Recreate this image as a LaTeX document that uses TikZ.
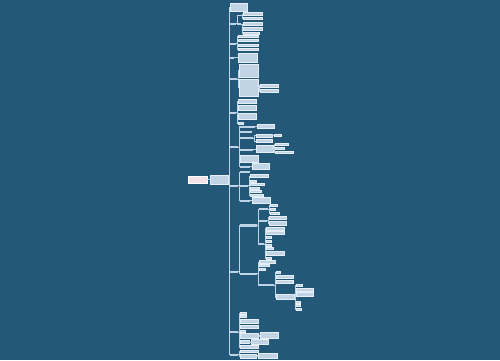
\documentclass[tikz,border=0pt]{standalone}
\usepackage{xcolor}
\definecolor{bgblue}{RGB}{35,88,121}
\definecolor{boxfill}{RGB}{193,212,230}
\definecolor{boxline}{RGB}{230,239,247}
\definecolor{linkcol}{RGB}{190,212,230}
\definecolor{rootfill}{RGB}{244,226,232}
% box from top-left (x1,y1) to bottom-right (x2,y2), in pixels
\newcommand{\bx}[6][leaf]{\node[#1, minimum width={(#5-#3)*1pt}, minimum height={(#6-#4)*1pt}] (#2) at (#3,#4) {};}
% elbow link from parent to child
\newcommand{\lk}[3][1.5]{\draw[link] (#2.east) -- ++(#1,0) |- (#3.west);}

\begin{document}
\begin{tikzpicture}[x=1pt, y=-1pt,
    leaf/.style={draw=boxline, line width=0.2pt, fill=boxfill, inner sep=0pt, outer sep=0pt, anchor=north west},
    lab/.style={leaf, fill=linkcol, draw=none},
    rootbox/.style={leaf, fill=rootfill, draw=white},
    link/.style={draw=linkcol, line width=0.45pt},
]
    \fill[bgblue] (0,0) rectangle (500,360);
    \useasboundingbox (0,0) rectangle (500,360);

    % Root and hub
    \bx[rootbox]{root}{188}{176}{207}{183}
    \bx{hub}{210}{175}{228}{184}
    \draw[link] (root) -- (hub);

    % Level one
    \bx{l0}{230}{3}{247}{11}
    \bx[lab]{l1}{230}{22.5}{236}{24.5}
    \bx[lab]{l2}{230}{42.5}{236}{44.5}
    \bx[lab]{l3}{230}{56.5}{234}{58.5}
    \bx[lab]{l4}{230}{78}{237}{80}
    \bx[lab]{l5}{230}{111.5}{236}{113.5}
    \bx[lab]{l6}{230}{146}{238}{148}
    \bx[lab]{l7}{230}{184.5}{238}{186.5}
    \bx[lab]{l8}{230}{270.5}{238}{272.5}
    \bx[lab]{l9}{230}{331}{238}{333}
    \bx[lab]{l10}{230}{353.5}{238}{355.5}
    \foreach \n in {l0,l1,l2,l3,l4,l5,l6,l7,l8,l9,l10}
        \draw[link] (hub.east) -- ++(1,0) |- (\n.west);

    % Branch 1
    \bx[lab]{l1s1}{238}{14.5}{241}{16}
    \bx[lab]{l1s2}{238}{23}{241}{25}
    \bx{l1a}{243}{12.5}{262}{15}
    \bx{l1b}{243}{17}{262}{19.5}
    \bx{l1c}{243}{22.5}{262}{25.5}
    \bx{l1d}{243}{27.5}{262}{30.5}
    \bx{l1e}{243}{32}{259}{34}
    \lk[1]{l1}{l1s1} \lk[1]{l1}{l1s2}
    \lk[1]{l1s1}{l1a} \lk[1]{l1s1}{l1b}
    \lk[1]{l1s2}{l1c} \lk[1]{l1s2}{l1d} \lk[1]{l1s2}{l1e}

    % Branch 2
    \bx{l2a}{238}{35}{258}{37.5}
    \bx{l2b}{238}{39}{258}{41.5}
    \bx{l2c}{238}{44}{258}{46.5}
    \bx{l2d}{238}{48}{258}{50.5}
    \foreach \c in {l2a,l2b,l2c,l2d} {\lk[1]{l2}{\c}}

    % Branch 3
    \bx{l3a}{238}{53}{257}{62}
    \lk[2]{l3}{l3a}

    % Branch 4
    \bx{l4a}{239}{64}{258}{77}
    \bx{l4b}{239}{79}{258}{96}
    \bx{l4b1}{260}{84}{278}{87}
    \bx{l4b2}{260}{89.5}{278}{92.5}
    \lk[1]{l4}{l4a} \lk[1]{l4}{l4b}
    \lk[1]{l4b}{l4b1} \lk[1]{l4b}{l4b2}

    % Branch 5
    \bx{l5a}{238}{99}{256}{103}
    \bx{l5b}{238}{105.5}{256}{110.5}
    \bx{l5c}{238}{113}{256}{119.5}
    \bx{l5d}{238}{122}{243}{124}
    \foreach \c in {l5a,l5b,l5c,l5d} {\lk[1]{l5}{\c}}

    % Branch 6
    \bx[lab]{l6a}{240}{125.5}{255}{127.5}
    \bx{l6a1}{257}{124.5}{274}{128}
    \bx[lab]{l6b}{240}{131}{252}{133}
    \bx[lab]{l6c}{240}{137}{253}{139}
    \bx{l6c1}{256}{134}{272}{137}
    \bx{l6c2}{256}{139.5}{272}{142.5}
    \bx{l6c1a}{274}{134.5}{281}{136.5}
    \bx[lab]{l6d}{240}{148.5}{253}{150.5}
    \bx{l6d1}{256}{145.5}{273}{152.5}
    \bx{l6d1a}{275}{143.5}{288}{145.5}
    \bx{l6d1b}{275}{147.5}{284}{149.5}
    \bx{l6d1c}{275}{151.5}{293}{153.5}
    \bx{l6e}{240}{155}{258}{162.5}
    \bx[lab]{l6f}{240}{165.5}{250}{167.5}
    \bx{l6f1}{252}{163.5}{269}{169.5}
    \foreach \c in {l6a,l6b,l6c,l6d,l6e,l6f} {\lk[1]{l6}{\c}}
    \lk[1]{l6a}{l6a1}
    \lk[1]{l6c}{l6c1} \lk[1]{l6c}{l6c2}
    \lk[1]{l6c1}{l6c1a}
    \lk[1]{l6d}{l6d1}
    \lk[1]{l6d1}{l6d1a} \lk[1]{l6d1}{l6d1b} \lk[1]{l6d1}{l6d1c}
    \lk[1]{l6f}{l6f1}

    % Branch 7
    \bx[lab]{l7a}{240}{171}{250}{173}
    \bx[lab]{l7b}{240}{184.5}{248}{186.5}
    \bx{l7b1}{250}{174.5}{268}{177.5}
    \bx{l7b2}{250}{180}{256}{182}
    \bx{l7b3}{250}{183}{264}{185}
    \bx{l7b4}{250}{187}{259}{189}
    \bx{l7b5}{250}{190.5}{261}{192.5}
    \bx{l7b6}{250}{194.5}{263}{196.5}
    \bx[lab]{l7c}{240}{199.5}{250}{201.5}
    \bx{l7c1}{252}{197.5}{270}{203.5}
    \foreach \c in {l7a,l7b,l7c} {\lk[1]{l7}{\c}}
    \foreach \c in {l7b1,l7b2,l7b3,l7b4,l7b5,l7b6} {\lk[1]{l7b}{\c}}
    \lk[1]{l7c}{l7c1}

    % Branch 8
    \bx[lab]{m1}{240}{224}{257}{226.5}
    \bx[lab]{m1p}{259}{208}{268}{210}
    \bx{m1p1}{270}{204.5}{277}{206.5}
    \bx{m1p2}{270}{208.5}{275}{210.5}
    \bx{m1p3}{270}{212.5}{279}{214.5}
    \bx[lab]{m1q}{259}{219.5}{267}{221.5}
    \bx{m1q1}{269}{216}{286}{219}
    \bx{m1q2}{269}{221.5}{286}{225}
    \bx[lab]{m1r}{259}{243}{264}{245}
    \bx{m1r1}{266}{227}{284}{230}
    \bx{m1r2}{266}{231.5}{284}{234.5}
    \bx{m1r3}{266}{236.5}{271}{238.5}
    \bx{m1r4}{266}{240.5}{271}{242.5}
    \bx{m1r5}{266}{244}{271}{246}
    \bx{m1r6}{266}{247.5}{273}{249.5}
    \bx{m1r7}{266}{251}{284}{255.5}
    \bx{m1r8}{266}{257}{271}{259}
    \bx[lab]{m2}{240}{272.5}{257}{274.5}
    \bx{m2a}{259}{260.5}{275}{263}
    \bx{m2b}{259}{264.5}{269}{266.5}
    \bx{m2c}{259}{268}{265}{270}
    \bx[lab]{m2t}{259}{284}{274}{286}
    \bx{m2t1}{276}{271.5}{280}{273.5}
    \bx{m2t2}{276}{275.5}{293}{278.5}
    \bx{m2t3}{276}{280.5}{293}{283.5}
    \bx{m2u}{276}{294.5}{294}{299.5}
    \bx{m2u1}{296}{284.5}{302}{286.5}
    \bx{m2u2}{296}{288.5}{313}{291.5}
    \bx{m2u3}{296}{292.5}{313}{296.5}
    \bx{m2u4}{296}{301.5}{300}{303.5}
    \bx{m2u5}{296}{304.5}{300}{306.5}
    \bx{m2u6}{296}{308}{301}{310}
    \lk[1]{l8}{m1} \lk[1]{l8}{m2}
    \foreach \c in {m1p,m1q,m1r} {\lk[1]{m1}{\c}}
    \foreach \c in {m1p1,m1p2,m1p3} {\lk[1]{m1p}{\c}}
    \foreach \c in {m1q1,m1q2} {\lk[1]{m1q}{\c}}
    \foreach \c in {m1r1,m1r2,m1r3,m1r4,m1r5,m1r6,m1r7,m1r8} {\lk[1]{m1r}{\c}}
    \foreach \c in {m2a,m2b,m2c,m2t} {\lk[1]{m2}{\c}}
    \foreach \c in {m2t1,m2t2,m2t3,m2u} {\lk[1]{m2t}{\c}}
    \foreach \c in {m2u1,m2u2,m2u3,m2u4,m2u5,m2u6} {\lk[1]{m2u}{\c}}

    % Branch 9
    \bx{l9a}{240}{312.5}{246}{314.5}
    \bx{l9b}{240}{315.5}{246}{317.5}
    \bx{l9c}{240}{319.5}{258}{323.5}
    \bx{l9d}{240}{325.5}{258}{328.5}
    \bx{l9e}{240}{330.5}{245}{332.5}
    \bx{l9f}{240}{333.5}{258}{338.5}
    \bx{l9f1}{260}{332.5}{278}{338.5}
    \bx{l9g}{240}{340.5}{249}{343.5}
    \bx{l9g1}{251}{339.5}{268}{344.5}
    \bx{l9h}{240}{345.5}{258}{348}
    \foreach \c in {l9a,l9b,l9c,l9d,l9e,l9f,l9g,l9h} {\lk[1]{l9}{\c}}
    \lk[1]{l9f}{l9f1} \lk[1]{l9g}{l9g1}

    % Branch 10
    \bx{l10a}{240}{350}{258}{352.5}
    \bx{l10b}{240}{354}{256}{358.5}
    \bx{l10b1}{258}{353}{277}{358}
    \lk[1]{l10}{l10a} \lk[1]{l10}{l10b}
    \lk[1]{l10b}{l10b1}
\end{tikzpicture}
\end{document}
